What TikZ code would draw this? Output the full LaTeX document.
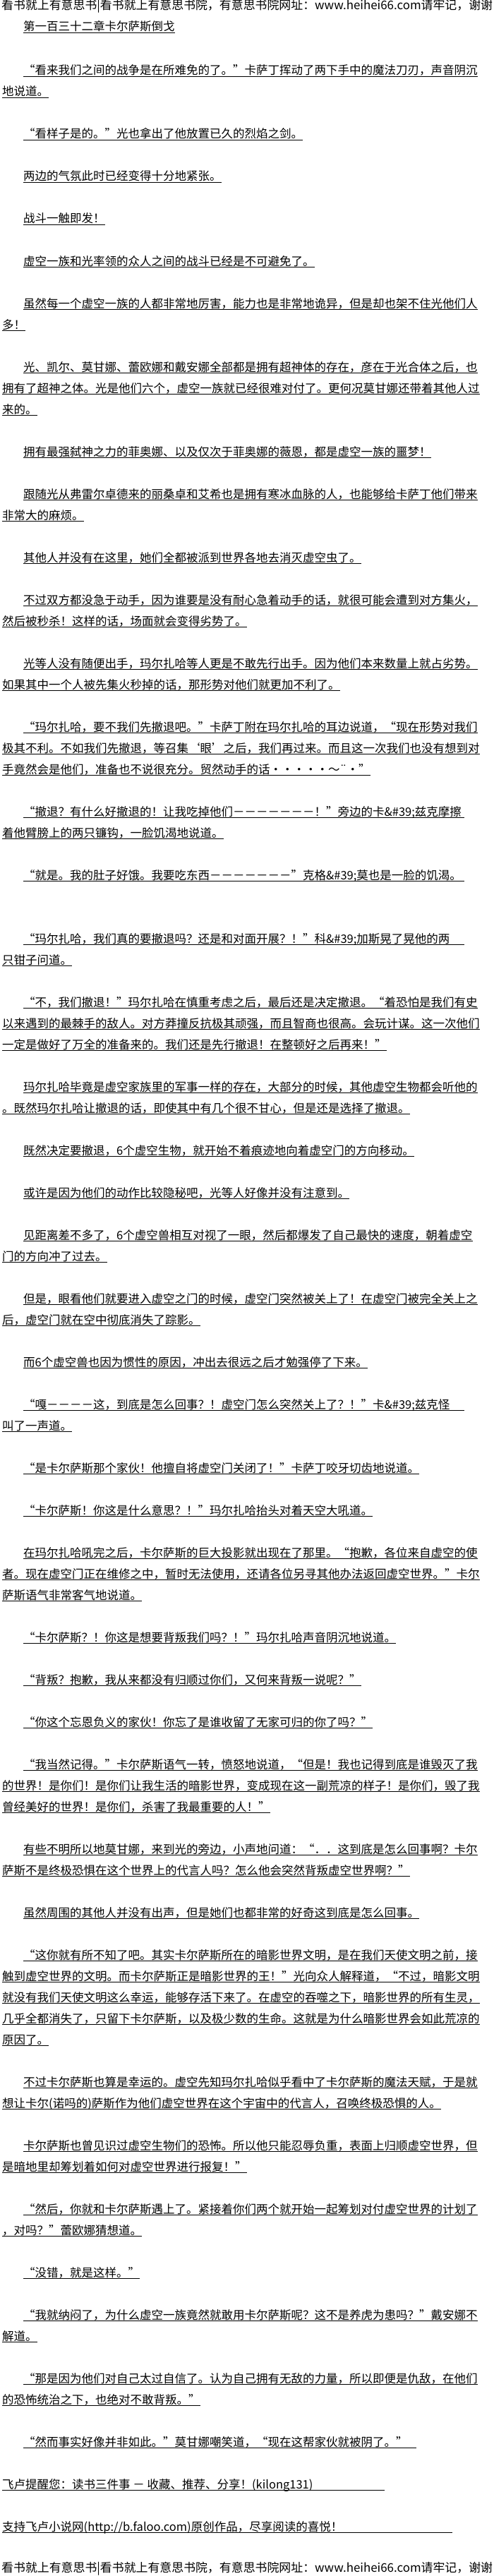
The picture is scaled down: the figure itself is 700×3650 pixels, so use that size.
\documentclass[tikz,border=0pt]{standalone}
\usepackage{fontspec}
\setmainfont{Noto Sans CJK SC}
\tikzset{
  txt/.style={anchor=base west, inner sep=0pt, font=\fontsize{16.5}{16.5}\selectfont},
  hdr/.style={anchor=base west, inner sep=0pt, font=\fontsize{16.9}{16.9}\selectfont},
  ul/.style={line width=0.9pt, black}
}
\newcommand\myLine[4]{\node[txt] (#1) at (#2,-#3-6) {#4};\draw[ul] ([yshift=-2pt]#1.base west) -- ([yshift=-2pt]#1.base east);}
\newcommand\myLineE[5]{\node[txt] (#1) at (#2,-#3-6) {#4};\coordinate (#1z) at (#5,-#3-6);\draw[ul] ([yshift=-2pt]#1.base west) -- ([yshift=-2pt]#1z);}
\begin{document}
\begin{tikzpicture}[x=1pt,y=1pt]
\useasboundingbox (0,0) rectangle (700,-3650);
\fill[white] (0,0) rectangle (700,-3650);
\node[hdr] (hd) at (2,-14) {看书就上有意思书|看书就上有意思书院，有意思书院网址：www.heihei66.com请牢记，谢谢};
\myLine{t0}{33}{38}{第一百三十二章卡尔萨斯倒戈}
\myLine{a01}{33}{100}{“看来我们之间的战争是在所难免的了。”卡萨丁挥动了两下手中的魔法刀刃，声音阴沉}
\myLine{a02}{3}{130}{地说道。}
\myLine{a03}{33}{190}{“看样子是的。”光也拿出了他放置已久的烈焰之剑。}
\myLine{a04}{33}{250}{两边的气氛此时已经变得十分地紧张。}
\myLine{a05}{33}{310}{战斗一触即发！}
\myLine{a06}{33}{370}{虚空一族和光率领的众人之间的战斗已经是不可避免了。}
\myLine{a07}{33}{430}{虽然每一个虚空一族的人都非常地厉害，能力也是非常地诡异，但是却也架不住光他们人}
\myLine{a08}{3}{460}{多！}
\myLine{a09}{33}{520}{光、凯尔、莫甘娜、蕾欧娜和戴安娜全部都是拥有超神体的存在，彦在于光合体之后，也}
\myLine{a10}{3}{550}{拥有了超神之体。光是他们六个，虚空一族就已经很难对付了。更何况莫甘娜还带着其他人过}
\myLine{a11}{3}{580}{来的。}
\myLine{a12}{33}{640}{拥有最强弑神之力的菲奥娜、以及仅次于菲奥娜的薇恩，都是虚空一族的噩梦！}
\myLine{a13}{33}{700}{跟随光从弗雷尔卓德来的丽桑卓和艾希也是拥有寒冰血脉的人，也能够给卡萨丁他们带来}
\myLine{a14}{3}{730}{非常大的麻烦。}
\myLine{a15}{33}{790}{其他人并没有在这里，她们全都被派到世界各地去消灭虚空虫了。}
\myLine{a16}{33}{850}{不过双方都没急于动手，因为谁要是没有耐心急着动手的话，就很可能会遭到对方集火，}
\myLine{a17}{3}{880}{然后被秒杀！这样的话，场面就会变得劣势了。}
\myLine{a18}{33}{940}{光等人没有随便出手，玛尔扎哈等人更是不敢先行出手。因为他们本来数量上就占劣势。}
\myLine{a19}{3}{970}{如果其中一个人被先集火秒掉的话，那形势对他们就更加不利了。}
\myLine{a20}{33}{1030}{“玛尔扎哈，要不我们先撤退吧。”卡萨丁附在玛尔扎哈的耳边说道，“现在形势对我们}
\myLine{a21}{3}{1060}{极其不利。不如我们先撤退，等召集‘眼’之后，我们再过来。而且这一次我们也没有想到对}
\myLine{a22}{3}{1090}{手竟然会是他们，准备也不说很充分。贸然动手的话・・・・・～¨・”}
\myLineE{a23}{33}{1150}{“撤退？有什么好撤退的！让我吃掉他们－－－－－－－！”旁边的卡\&\#39;兹克摩擦}{658}
\myLine{a24}{3}{1180}{着他臂膀上的两只镰钩，一脸饥渴地说道。}
\myLineE{a25}{33}{1240}{“就是。我的肚子好饿。我要吃东西－－－－－－－”克格\&\#39;莫也是一脸的饥渴。}{658}
\myLineE{a26}{33}{1330}{“玛尔扎哈，我们真的要撤退吗？还是和对面开展？！”科\&\#39;加斯晃了晃他的两}{658}
\myLine{a27}{3}{1360}{只钳子问道。}
\myLine{a28}{33}{1420}{“不，我们撤退！”玛尔扎哈在慎重考虑之后，最后还是决定撤退。“着恐怕是我们有史}
\myLine{a29}{3}{1450}{以来遇到的最棘手的敌人。对方莽撞反抗极其顽强，而且智商也很高。会玩计谋。这一次他们}
\myLine{a30}{3}{1480}{一定是做好了万全的准备来的。我们还是先行撤退！在整顿好之后再来！”}
\myLine{a31}{33}{1540}{玛尔扎哈毕竟是虚空家族里的军事一样的存在，大部分的时候，其他虚空生物都会听他的}
\myLine{a32}{3}{1570}{。既然玛尔扎哈让撤退的话，即使其中有几个很不甘心，但是还是选择了撤退。}
\myLine{a33}{33}{1630}{既然决定要撤退，6个虚空生物，就开始不着痕迹地向着虚空门的方向移动。}
\myLine{a34}{33}{1690}{或许是因为他们的动作比较隐秘吧，光等人好像并没有注意到。}
\myLine{a35}{33}{1750}{见距离差不多了，6个虚空兽相互对视了一眼，然后都爆发了自己最快的速度，朝着虚空}
\myLine{a36}{3}{1780}{门的方向冲了过去。}
\myLine{a37}{33}{1840}{但是，眼看他们就要进入虚空之门的时候，虚空门突然被关上了！在虚空门被完全关上之}
\myLine{a38}{3}{1870}{后，虚空门就在空中彻底消失了踪影。}
\myLine{a39}{33}{1930}{而6个虚空兽也因为惯性的原因，冲出去很远之后才勉强停了下来。}
\myLineE{a40}{33}{1990}{“嘎－－－－这，到底是怎么回事？！虚空门怎么突然关上了？！”卡\&\#39;兹克怪}{658}
\myLine{a41}{3}{2020}{叫了一声道。}
\myLine{a42}{33}{2080}{“是卡尔萨斯那个家伙！他擅自将虚空门关闭了！”卡萨丁咬牙切齿地说道。}
\myLine{a43}{33}{2140}{“卡尔萨斯！你这是什么意思？！”玛尔扎哈抬头对着天空大吼道。}
\myLine{a44}{33}{2200}{在玛尔扎哈吼完之后，卡尔萨斯的巨大投影就出现在了那里。“抱歉，各位来自虚空的使}
\myLine{a45}{3}{2230}{者。现在虚空门正在维修之中，暂时无法使用，还请各位另寻其他办法返回虚空世界。”卡尔}
\myLine{a46}{3}{2260}{萨斯语气非常客气地说道。}
\myLine{a47}{33}{2320}{“卡尔萨斯？！你这是想要背叛我们吗？！”玛尔扎哈声音阴沉地说道。}
\myLine{a48}{33}{2380}{“背叛？抱歉，我从来都没有归顺过你们，又何来背叛一说呢？”}
\myLine{a49}{33}{2440}{“你这个忘恩负义的家伙！你忘了是谁收留了无家可归的你了吗？”}
\myLine{a50}{33}{2500}{“我当然记得。”卡尔萨斯语气一转，愤怒地说道，“但是！我也记得到底是谁毁灭了我}
\myLine{a51}{3}{2530}{的世界！是你们！是你们让我生活的暗影世界，变成现在这一副荒凉的样子！是你们，毁了我}
\myLine{a52}{3}{2560}{曾经美好的世界！是你们，杀害了我最重要的人！”}
\myLine{a53}{33}{2620}{有些不明所以地莫甘娜，来到光的旁边，小声地问道：“．．这到底是怎么回事啊？卡尔}
\myLine{a54}{3}{2650}{萨斯不是终极恐惧在这个世界上的代言人吗？怎么他会突然背叛虚空世界啊？”}
\myLine{a55}{33}{2710}{虽然周围的其他人并没有出声，但是她们也都非常的好奇这到底是怎么回事。}
\myLine{a56}{33}{2770}{“这你就有所不知了吧。其实卡尔萨斯所在的暗影世界文明，是在我们天使文明之前，接}
\myLine{a57}{3}{2800}{触到虚空世界的文明。而卡尔萨斯正是暗影世界的王！”光向众人解释道，“不过，暗影文明}
\myLine{a58}{3}{2830}{就没有我们天使文明这么幸运，能够存活下来了。在虚空的吞噬之下，暗影世界的所有生灵，}
\myLine{a59}{3}{2860}{几乎全都消失了，只留下卡尔萨斯，以及极少数的生命。这就是为什么暗影世界会如此荒凉的}
\myLine{a60}{3}{2890}{原因了。}
\myLine{a61}{33}{2950}{不过卡尔萨斯也算是幸运的。虚空先知玛尔扎哈似乎看中了卡尔萨斯的魔法天赋，于是就}
\myLine{a62}{3}{2980}{想让卡尔(诺吗的)萨斯作为他们虚空世界在这个宇宙中的代言人，召唤终极恐惧的人。}
\myLine{a63}{33}{3040}{卡尔萨斯也曾见识过虚空生物们的恐怖。所以他只能忍辱负重，表面上归顺虚空世界，但}
\myLine{a64}{3}{3070}{是暗地里却筹划着如何对虚空世界进行报复！”}
\myLine{a65}{33}{3130}{“然后，你就和卡尔萨斯遇上了。紧接着你们两个就开始一起筹划对付虚空世界的计划了}
\myLine{a66}{3}{3160}{，对吗？”蕾欧娜猜想道。}
\myLine{a67}{33}{3220}{“没错，就是这样。”}
\myLine{a68}{33}{3280}{“我就纳闷了，为什么虚空一族竟然就敢用卡尔萨斯呢？这不是养虎为患吗？”戴安娜不}
\myLine{a69}{3}{3310}{解道。}
\myLine{a70}{33}{3370}{“那是因为他们对自己太过自信了。认为自己拥有无敌的力量，所以即便是仇敌，在他们}
\myLine{a71}{3}{3400}{的恐怖统治之下，也绝对不敢背叛。”}
\myLineE{a72}{33}{3460}{“然而事实好像并非如此。”莫甘娜嘲笑道，“现在这帮家伙就被阴了。”}{590}
\myLineE{a73}{3}{3520}{飞卢提醒您：读书三件事 － 收藏、推荐、分享！(kilong131)}{545}
\myLineE{a74}{3}{3580}{支持飞卢小说网(http://b.faloo.com)原创作品，尽享阅读的喜悦！}{641}
\node[hdr] (ft) at (2,-3644) {看书就上有意思书|看书就上有意思书院，有意思书院网址：www.heihei66.com请牢记，谢谢};
\end{tikzpicture}
\end{document}
